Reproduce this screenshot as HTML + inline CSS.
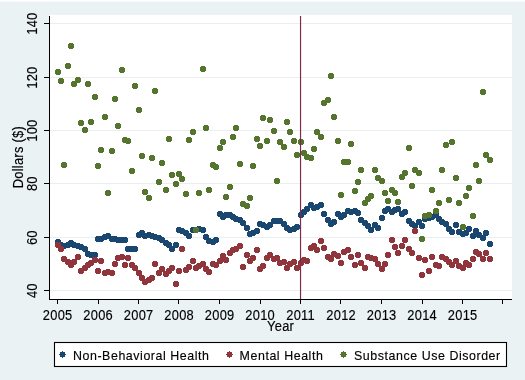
<!DOCTYPE html>
<html><head><meta charset="utf-8"><style>
html,body{margin:0;padding:0;width:525px;height:380px;overflow:hidden;background:#eaf2f3;}
svg{display:block;font-family:"Liberation Sans", sans-serif;will-change:transform;}
</style></head><body><svg width="525" height="380" viewBox="0 0 525 380"><rect x="0" y="0" width="525" height="380" fill="#eaf2f3"/><rect x="0" y="0" width="525" height="1" fill="#ffffff"/><rect x="0" y="1" width="525" height="1" fill="#f4f8f9"/><rect x="49" y="15" width="463" height="285" fill="#ffffff"/><rect x="50" y="23" width="462" height="1" fill="#eaeeee"/><rect x="44" y="23" width="5" height="1" fill="#000"/><rect x="50" y="77" width="462" height="1" fill="#eaeeee"/><rect x="44" y="77" width="5" height="1" fill="#000"/><rect x="50" y="130" width="462" height="1" fill="#eaeeee"/><rect x="44" y="130" width="5" height="1" fill="#000"/><rect x="50" y="183" width="462" height="1" fill="#eaeeee"/><rect x="44" y="183" width="5" height="1" fill="#000"/><rect x="50" y="237" width="462" height="1" fill="#eaeeee"/><rect x="44" y="237" width="5" height="1" fill="#000"/><rect x="50" y="290" width="462" height="1" fill="#eaeeee"/><rect x="44" y="290" width="5" height="1" fill="#000"/><rect x="49" y="16" width="1" height="284" fill="#000"/><rect x="49" y="299" width="463" height="1" fill="#000"/><rect x="57" y="300" width="1" height="4" fill="#000"/><rect x="98" y="300" width="1" height="4" fill="#000"/><rect x="138" y="300" width="1" height="4" fill="#000"/><rect x="178" y="300" width="1" height="4" fill="#000"/><rect x="219" y="300" width="1" height="4" fill="#000"/><rect x="260" y="300" width="1" height="4" fill="#000"/><rect x="300" y="300" width="1" height="4" fill="#000"/><rect x="340" y="300" width="1" height="4" fill="#000"/><rect x="381" y="300" width="1" height="4" fill="#000"/><rect x="422" y="300" width="1" height="4" fill="#000"/><rect x="462" y="300" width="1" height="4" fill="#000"/><rect x="502" y="300" width="1" height="4" fill="#000"/><path fill="#1a476f" shape-rendering="crispEdges" d="M56 239h4v1h1v4h-1v1h-4v-1h-1v-4h1zM59 242h4v1h1v4h-1v1h-4v-1h-1v-4h1zM62 243h4v1h1v4h-1v1h-4v-1h-1v-4h1zM66 242h4v1h1v4h-1v1h-4v-1h-1v-4h1zM69 240h4v1h1v4h-1v1h-4v-1h-1v-4h1zM72 242h4v1h1v4h-1v1h-4v-1h-1v-4h1zM76 243h4v1h1v4h-1v1h-4v-1h-1v-4h1zM79 244h4v1h1v4h-1v1h-4v-1h-1v-4h1zM83 246h4v1h1v4h-1v1h-4v-1h-1v-4h1zM86 251h4v1h1v4h-1v1h-4v-1h-1v-4h1zM89 252h4v1h1v4h-1v1h-4v-1h-1v-4h1zM93 252h4v1h1v4h-1v1h-4v-1h-1v-4h1zM96 236h4v1h1v4h-1v1h-4v-1h-1v-4h1zM99 236h4v1h1v4h-1v1h-4v-1h-1v-4h1zM103 234h4v1h1v4h-1v1h-4v-1h-1v-4h1zM106 233h4v1h1v4h-1v1h-4v-1h-1v-4h1zM110 236h4v1h1v4h-1v1h-4v-1h-1v-4h1zM113 236h4v1h1v4h-1v1h-4v-1h-1v-4h1zM116 237h4v1h1v4h-1v1h-4v-1h-1v-4h1zM120 237h4v1h1v4h-1v1h-4v-1h-1v-4h1zM123 237h4v1h1v4h-1v1h-4v-1h-1v-4h1zM126 246h4v1h1v4h-1v1h-4v-1h-1v-4h1zM130 246h4v1h1v4h-1v1h-4v-1h-1v-4h1zM133 246h4v1h1v4h-1v1h-4v-1h-1v-4h1zM137 232h4v1h1v4h-1v1h-4v-1h-1v-4h1zM140 230h4v1h1v4h-1v1h-4v-1h-1v-4h1zM143 233h4v1h1v4h-1v1h-4v-1h-1v-4h1zM147 232h4v1h1v4h-1v1h-4v-1h-1v-4h1zM150 233h4v1h1v4h-1v1h-4v-1h-1v-4h1zM153 234h4v1h1v4h-1v1h-4v-1h-1v-4h1zM157 235h4v1h1v4h-1v1h-4v-1h-1v-4h1zM160 237h4v1h1v4h-1v1h-4v-1h-1v-4h1zM164 240h4v1h1v4h-1v1h-4v-1h-1v-4h1zM167 242h4v1h1v4h-1v1h-4v-1h-1v-4h1zM170 246h4v1h1v4h-1v1h-4v-1h-1v-4h1zM174 242h4v1h1v4h-1v1h-4v-1h-1v-4h1zM177 227h4v1h1v4h-1v1h-4v-1h-1v-4h1zM180 228h4v1h1v4h-1v1h-4v-1h-1v-4h1zM184 230h4v1h1v4h-1v1h-4v-1h-1v-4h1zM187 233h4v1h1v4h-1v1h-4v-1h-1v-4h1zM191 227h4v1h1v4h-1v1h-4v-1h-1v-4h1zM194 227h4v1h1v4h-1v1h-4v-1h-1v-4h1zM197 226h4v1h1v4h-1v1h-4v-1h-1v-4h1zM201 227h4v1h1v4h-1v1h-4v-1h-1v-4h1zM204 234h4v1h1v4h-1v1h-4v-1h-1v-4h1zM207 238h4v1h1v4h-1v1h-4v-1h-1v-4h1zM211 239h4v1h1v4h-1v1h-4v-1h-1v-4h1zM214 237h4v1h1v4h-1v1h-4v-1h-1v-4h1zM218 211h4v1h1v4h-1v1h-4v-1h-1v-4h1zM221 214h4v1h1v4h-1v1h-4v-1h-1v-4h1zM224 212h4v1h1v4h-1v1h-4v-1h-1v-4h1zM228 212h4v1h1v4h-1v1h-4v-1h-1v-4h1zM231 214h4v1h1v4h-1v1h-4v-1h-1v-4h1zM234 216h4v1h1v4h-1v1h-4v-1h-1v-4h1zM238 217h4v1h1v4h-1v1h-4v-1h-1v-4h1zM241 220h4v1h1v4h-1v1h-4v-1h-1v-4h1zM245 225h4v1h1v4h-1v1h-4v-1h-1v-4h1zM248 231h4v1h1v4h-1v1h-4v-1h-1v-4h1zM251 230h4v1h1v4h-1v1h-4v-1h-1v-4h1zM255 228h4v1h1v4h-1v1h-4v-1h-1v-4h1zM258 221h4v1h1v4h-1v1h-4v-1h-1v-4h1zM261 222h4v1h1v4h-1v1h-4v-1h-1v-4h1zM265 224h4v1h1v4h-1v1h-4v-1h-1v-4h1zM268 222h4v1h1v4h-1v1h-4v-1h-1v-4h1zM272 218h4v1h1v4h-1v1h-4v-1h-1v-4h1zM275 218h4v1h1v4h-1v1h-4v-1h-1v-4h1zM278 218h4v1h1v4h-1v1h-4v-1h-1v-4h1zM282 221h4v1h1v4h-1v1h-4v-1h-1v-4h1zM285 225h4v1h1v4h-1v1h-4v-1h-1v-4h1zM288 227h4v1h1v4h-1v1h-4v-1h-1v-4h1zM292 226h4v1h1v4h-1v1h-4v-1h-1v-4h1zM295 224h4v1h1v4h-1v1h-4v-1h-1v-4h1zM299 212h4v1h1v4h-1v1h-4v-1h-1v-4h1zM302 209h4v1h1v4h-1v1h-4v-1h-1v-4h1zM305 206h4v1h1v4h-1v1h-4v-1h-1v-4h1zM309 202h4v1h1v4h-1v1h-4v-1h-1v-4h1zM312 205h4v1h1v4h-1v1h-4v-1h-1v-4h1zM315 204h4v1h1v4h-1v1h-4v-1h-1v-4h1zM319 202h4v1h1v4h-1v1h-4v-1h-1v-4h1zM322 211h4v1h1v4h-1v1h-4v-1h-1v-4h1zM326 217h4v1h1v4h-1v1h-4v-1h-1v-4h1zM329 221h4v1h1v4h-1v1h-4v-1h-1v-4h1zM332 219h4v1h1v4h-1v1h-4v-1h-1v-4h1zM336 211h4v1h1v4h-1v1h-4v-1h-1v-4h1zM339 214h4v1h1v4h-1v1h-4v-1h-1v-4h1zM342 212h4v1h1v4h-1v1h-4v-1h-1v-4h1zM346 208h4v1h1v4h-1v1h-4v-1h-1v-4h1zM349 209h4v1h1v4h-1v1h-4v-1h-1v-4h1zM353 208h4v1h1v4h-1v1h-4v-1h-1v-4h1zM356 210h4v1h1v4h-1v1h-4v-1h-1v-4h1zM359 217h4v1h1v4h-1v1h-4v-1h-1v-4h1zM363 220h4v1h1v4h-1v1h-4v-1h-1v-4h1zM366 223h4v1h1v4h-1v1h-4v-1h-1v-4h1zM369 227h4v1h1v4h-1v1h-4v-1h-1v-4h1zM373 222h4v1h1v4h-1v1h-4v-1h-1v-4h1zM376 225h4v1h1v4h-1v1h-4v-1h-1v-4h1zM380 215h4v1h1v4h-1v1h-4v-1h-1v-4h1zM383 208h4v1h1v4h-1v1h-4v-1h-1v-4h1zM386 206h4v1h1v4h-1v1h-4v-1h-1v-4h1zM390 209h4v1h1v4h-1v1h-4v-1h-1v-4h1zM393 207h4v1h1v4h-1v1h-4v-1h-1v-4h1zM396 206h4v1h1v4h-1v1h-4v-1h-1v-4h1zM400 211h4v1h1v4h-1v1h-4v-1h-1v-4h1zM403 209h4v1h1v4h-1v1h-4v-1h-1v-4h1zM407 218h4v1h1v4h-1v1h-4v-1h-1v-4h1zM410 221h4v1h1v4h-1v1h-4v-1h-1v-4h1zM413 223h4v1h1v4h-1v1h-4v-1h-1v-4h1zM417 219h4v1h1v4h-1v1h-4v-1h-1v-4h1zM420 223h4v1h1v4h-1v1h-4v-1h-1v-4h1zM423 216h4v1h1v4h-1v1h-4v-1h-1v-4h1zM427 215h4v1h1v4h-1v1h-4v-1h-1v-4h1zM430 214h4v1h1v4h-1v1h-4v-1h-1v-4h1zM434 212h4v1h1v4h-1v1h-4v-1h-1v-4h1zM437 216h4v1h1v4h-1v1h-4v-1h-1v-4h1zM440 219h4v1h1v4h-1v1h-4v-1h-1v-4h1zM444 221h4v1h1v4h-1v1h-4v-1h-1v-4h1zM447 226h4v1h1v4h-1v1h-4v-1h-1v-4h1zM450 229h4v1h1v4h-1v1h-4v-1h-1v-4h1zM454 222h4v1h1v4h-1v1h-4v-1h-1v-4h1zM457 229h4v1h1v4h-1v1h-4v-1h-1v-4h1zM461 231h4v1h1v4h-1v1h-4v-1h-1v-4h1zM464 230h4v1h1v4h-1v1h-4v-1h-1v-4h1zM467 226h4v1h1v4h-1v1h-4v-1h-1v-4h1zM471 233h4v1h1v4h-1v1h-4v-1h-1v-4h1zM474 228h4v1h1v4h-1v1h-4v-1h-1v-4h1zM477 232h4v1h1v4h-1v1h-4v-1h-1v-4h1zM481 235h4v1h1v4h-1v1h-4v-1h-1v-4h1zM484 230h4v1h1v4h-1v1h-4v-1h-1v-4h1zM488 241h4v1h1v4h-1v1h-4v-1h-1v-4h1z"/><path fill="#90353b" shape-rendering="crispEdges" d="M56 242h4v1h1v4h-1v1h-4v-1h-1v-4h1zM59 246h4v1h1v4h-1v1h-4v-1h-1v-4h1zM62 256h4v1h1v4h-1v1h-4v-1h-1v-4h1zM66 259h4v1h1v4h-1v1h-4v-1h-1v-4h1zM69 262h4v1h1v4h-1v1h-4v-1h-1v-4h1zM72 259h4v1h1v4h-1v1h-4v-1h-1v-4h1zM76 254h4v1h1v4h-1v1h-4v-1h-1v-4h1zM79 268h4v1h1v4h-1v1h-4v-1h-1v-4h1zM83 265h4v1h1v4h-1v1h-4v-1h-1v-4h1zM86 262h4v1h1v4h-1v1h-4v-1h-1v-4h1zM89 260h4v1h1v4h-1v1h-4v-1h-1v-4h1zM93 257h4v1h1v4h-1v1h-4v-1h-1v-4h1zM96 268h4v1h1v4h-1v1h-4v-1h-1v-4h1zM99 258h4v1h1v4h-1v1h-4v-1h-1v-4h1zM103 270h4v1h1v4h-1v1h-4v-1h-1v-4h1zM106 269h4v1h1v4h-1v1h-4v-1h-1v-4h1zM110 270h4v1h1v4h-1v1h-4v-1h-1v-4h1zM113 261h4v1h1v4h-1v1h-4v-1h-1v-4h1zM116 255h4v1h1v4h-1v1h-4v-1h-1v-4h1zM120 254h4v1h1v4h-1v1h-4v-1h-1v-4h1zM123 262h4v1h1v4h-1v1h-4v-1h-1v-4h1zM126 255h4v1h1v4h-1v1h-4v-1h-1v-4h1zM130 262h4v1h1v4h-1v1h-4v-1h-1v-4h1zM133 265h4v1h1v4h-1v1h-4v-1h-1v-4h1zM137 270h4v1h1v4h-1v1h-4v-1h-1v-4h1zM140 275h4v1h1v4h-1v1h-4v-1h-1v-4h1zM143 279h4v1h1v4h-1v1h-4v-1h-1v-4h1zM147 277h4v1h1v4h-1v1h-4v-1h-1v-4h1zM150 275h4v1h1v4h-1v1h-4v-1h-1v-4h1zM153 261h4v1h1v4h-1v1h-4v-1h-1v-4h1zM157 270h4v1h1v4h-1v1h-4v-1h-1v-4h1zM160 266h4v1h1v4h-1v1h-4v-1h-1v-4h1zM164 271h4v1h1v4h-1v1h-4v-1h-1v-4h1zM167 268h4v1h1v4h-1v1h-4v-1h-1v-4h1zM170 265h4v1h1v4h-1v1h-4v-1h-1v-4h1zM174 281h4v1h1v4h-1v1h-4v-1h-1v-4h1zM177 268h4v1h1v4h-1v1h-4v-1h-1v-4h1zM180 246h4v1h1v4h-1v1h-4v-1h-1v-4h1zM184 267h4v1h1v4h-1v1h-4v-1h-1v-4h1zM187 264h4v1h1v4h-1v1h-4v-1h-1v-4h1zM191 258h4v1h1v4h-1v1h-4v-1h-1v-4h1zM194 265h4v1h1v4h-1v1h-4v-1h-1v-4h1zM197 263h4v1h1v4h-1v1h-4v-1h-1v-4h1zM201 261h4v1h1v4h-1v1h-4v-1h-1v-4h1zM204 266h4v1h1v4h-1v1h-4v-1h-1v-4h1zM207 269h4v1h1v4h-1v1h-4v-1h-1v-4h1zM211 261h4v1h1v4h-1v1h-4v-1h-1v-4h1zM214 262h4v1h1v4h-1v1h-4v-1h-1v-4h1zM218 258h4v1h1v4h-1v1h-4v-1h-1v-4h1zM221 253h4v1h1v4h-1v1h-4v-1h-1v-4h1zM224 257h4v1h1v4h-1v1h-4v-1h-1v-4h1zM228 250h4v1h1v4h-1v1h-4v-1h-1v-4h1zM231 247h4v1h1v4h-1v1h-4v-1h-1v-4h1zM234 246h4v1h1v4h-1v1h-4v-1h-1v-4h1zM238 243h4v1h1v4h-1v1h-4v-1h-1v-4h1zM241 264h4v1h1v4h-1v1h-4v-1h-1v-4h1zM245 252h4v1h1v4h-1v1h-4v-1h-1v-4h1zM248 258h4v1h1v4h-1v1h-4v-1h-1v-4h1zM251 255h4v1h1v4h-1v1h-4v-1h-1v-4h1zM255 247h4v1h1v4h-1v1h-4v-1h-1v-4h1zM258 266h4v1h1v4h-1v1h-4v-1h-1v-4h1zM261 263h4v1h1v4h-1v1h-4v-1h-1v-4h1zM265 255h4v1h1v4h-1v1h-4v-1h-1v-4h1zM268 252h4v1h1v4h-1v1h-4v-1h-1v-4h1zM272 256h4v1h1v4h-1v1h-4v-1h-1v-4h1zM275 255h4v1h1v4h-1v1h-4v-1h-1v-4h1zM278 260h4v1h1v4h-1v1h-4v-1h-1v-4h1zM282 259h4v1h1v4h-1v1h-4v-1h-1v-4h1zM285 265h4v1h1v4h-1v1h-4v-1h-1v-4h1zM288 261h4v1h1v4h-1v1h-4v-1h-1v-4h1zM292 259h4v1h1v4h-1v1h-4v-1h-1v-4h1zM295 265h4v1h1v4h-1v1h-4v-1h-1v-4h1zM299 260h4v1h1v4h-1v1h-4v-1h-1v-4h1zM302 257h4v1h1v4h-1v1h-4v-1h-1v-4h1zM305 258h4v1h1v4h-1v1h-4v-1h-1v-4h1zM309 245h4v1h1v4h-1v1h-4v-1h-1v-4h1zM312 243h4v1h1v4h-1v1h-4v-1h-1v-4h1zM315 247h4v1h1v4h-1v1h-4v-1h-1v-4h1zM319 238h4v1h1v4h-1v1h-4v-1h-1v-4h1zM322 245h4v1h1v4h-1v1h-4v-1h-1v-4h1zM326 254h4v1h1v4h-1v1h-4v-1h-1v-4h1zM329 256h4v1h1v4h-1v1h-4v-1h-1v-4h1zM332 251h4v1h1v4h-1v1h-4v-1h-1v-4h1zM336 253h4v1h1v4h-1v1h-4v-1h-1v-4h1zM339 260h4v1h1v4h-1v1h-4v-1h-1v-4h1zM342 249h4v1h1v4h-1v1h-4v-1h-1v-4h1zM346 247h4v1h1v4h-1v1h-4v-1h-1v-4h1zM349 254h4v1h1v4h-1v1h-4v-1h-1v-4h1zM353 262h4v1h1v4h-1v1h-4v-1h-1v-4h1zM356 252h4v1h1v4h-1v1h-4v-1h-1v-4h1zM359 260h4v1h1v4h-1v1h-4v-1h-1v-4h1zM363 265h4v1h1v4h-1v1h-4v-1h-1v-4h1zM366 254h4v1h1v4h-1v1h-4v-1h-1v-4h1zM369 255h4v1h1v4h-1v1h-4v-1h-1v-4h1zM373 256h4v1h1v4h-1v1h-4v-1h-1v-4h1zM376 261h4v1h1v4h-1v1h-4v-1h-1v-4h1zM380 266h4v1h1v4h-1v1h-4v-1h-1v-4h1zM383 261h4v1h1v4h-1v1h-4v-1h-1v-4h1zM386 252h4v1h1v4h-1v1h-4v-1h-1v-4h1zM390 237h4v1h1v4h-1v1h-4v-1h-1v-4h1zM393 244h4v1h1v4h-1v1h-4v-1h-1v-4h1zM396 250h4v1h1v4h-1v1h-4v-1h-1v-4h1zM400 243h4v1h1v4h-1v1h-4v-1h-1v-4h1zM403 237h4v1h1v4h-1v1h-4v-1h-1v-4h1zM407 246h4v1h1v4h-1v1h-4v-1h-1v-4h1zM410 250h4v1h1v4h-1v1h-4v-1h-1v-4h1zM413 228h4v1h1v4h-1v1h-4v-1h-1v-4h1zM417 255h4v1h1v4h-1v1h-4v-1h-1v-4h1zM420 272h4v1h1v4h-1v1h-4v-1h-1v-4h1zM423 257h4v1h1v4h-1v1h-4v-1h-1v-4h1zM427 268h4v1h1v4h-1v1h-4v-1h-1v-4h1zM430 254h4v1h1v4h-1v1h-4v-1h-1v-4h1zM434 262h4v1h1v4h-1v1h-4v-1h-1v-4h1zM437 263h4v1h1v4h-1v1h-4v-1h-1v-4h1zM440 254h4v1h1v4h-1v1h-4v-1h-1v-4h1zM444 256h4v1h1v4h-1v1h-4v-1h-1v-4h1zM447 259h4v1h1v4h-1v1h-4v-1h-1v-4h1zM450 262h4v1h1v4h-1v1h-4v-1h-1v-4h1zM454 258h4v1h1v4h-1v1h-4v-1h-1v-4h1zM457 263h4v1h1v4h-1v1h-4v-1h-1v-4h1zM461 265h4v1h1v4h-1v1h-4v-1h-1v-4h1zM464 260h4v1h1v4h-1v1h-4v-1h-1v-4h1zM467 262h4v1h1v4h-1v1h-4v-1h-1v-4h1zM471 256h4v1h1v4h-1v1h-4v-1h-1v-4h1zM474 249h4v1h1v4h-1v1h-4v-1h-1v-4h1zM477 251h4v1h1v4h-1v1h-4v-1h-1v-4h1zM481 256h4v1h1v4h-1v1h-4v-1h-1v-4h1zM484 250h4v1h1v4h-1v1h-4v-1h-1v-4h1zM488 256h4v1h1v4h-1v1h-4v-1h-1v-4h1z"/><path fill="#55752f" shape-rendering="crispEdges" d="M56 69h4v1h1v4h-1v1h-4v-1h-1v-4h1zM59 78h4v1h1v4h-1v1h-4v-1h-1v-4h1zM62 162h4v1h1v4h-1v1h-4v-1h-1v-4h1zM66 63h4v1h1v4h-1v1h-4v-1h-1v-4h1zM69 43h4v1h1v4h-1v1h-4v-1h-1v-4h1zM72 81h4v1h1v4h-1v1h-4v-1h-1v-4h1zM76 77h4v1h1v4h-1v1h-4v-1h-1v-4h1zM79 120h4v1h1v4h-1v1h-4v-1h-1v-4h1zM83 127h4v1h1v4h-1v1h-4v-1h-1v-4h1zM86 81h4v1h1v4h-1v1h-4v-1h-1v-4h1zM89 119h4v1h1v4h-1v1h-4v-1h-1v-4h1zM93 94h4v1h1v4h-1v1h-4v-1h-1v-4h1zM96 163h4v1h1v4h-1v1h-4v-1h-1v-4h1zM99 147h4v1h1v4h-1v1h-4v-1h-1v-4h1zM103 114h4v1h1v4h-1v1h-4v-1h-1v-4h1zM106 190h4v1h1v4h-1v1h-4v-1h-1v-4h1zM110 148h4v1h1v4h-1v1h-4v-1h-1v-4h1zM113 96h4v1h1v4h-1v1h-4v-1h-1v-4h1zM116 123h4v1h1v4h-1v1h-4v-1h-1v-4h1zM120 67h4v1h1v4h-1v1h-4v-1h-1v-4h1zM123 137h4v1h1v4h-1v1h-4v-1h-1v-4h1zM126 138h4v1h1v4h-1v1h-4v-1h-1v-4h1zM130 168h4v1h1v4h-1v1h-4v-1h-1v-4h1zM133 83h4v1h1v4h-1v1h-4v-1h-1v-4h1zM137 107h4v1h1v4h-1v1h-4v-1h-1v-4h1zM140 153h4v1h1v4h-1v1h-4v-1h-1v-4h1zM143 189h4v1h1v4h-1v1h-4v-1h-1v-4h1zM147 195h4v1h1v4h-1v1h-4v-1h-1v-4h1zM150 155h4v1h1v4h-1v1h-4v-1h-1v-4h1zM153 88h4v1h1v4h-1v1h-4v-1h-1v-4h1zM157 179h4v1h1v4h-1v1h-4v-1h-1v-4h1zM160 160h4v1h1v4h-1v1h-4v-1h-1v-4h1zM164 187h4v1h1v4h-1v1h-4v-1h-1v-4h1zM167 136h4v1h1v4h-1v1h-4v-1h-1v-4h1zM170 172h4v1h1v4h-1v1h-4v-1h-1v-4h1zM174 181h4v1h1v4h-1v1h-4v-1h-1v-4h1zM177 171h4v1h1v4h-1v1h-4v-1h-1v-4h1zM180 176h4v1h1v4h-1v1h-4v-1h-1v-4h1zM184 191h4v1h1v4h-1v1h-4v-1h-1v-4h1zM187 137h4v1h1v4h-1v1h-4v-1h-1v-4h1zM191 129h4v1h1v4h-1v1h-4v-1h-1v-4h1zM194 227h4v1h1v4h-1v1h-4v-1h-1v-4h1zM197 190h4v1h1v4h-1v1h-4v-1h-1v-4h1zM201 66h4v1h1v4h-1v1h-4v-1h-1v-4h1zM204 125h4v1h1v4h-1v1h-4v-1h-1v-4h1zM207 187h4v1h1v4h-1v1h-4v-1h-1v-4h1zM211 162h4v1h1v4h-1v1h-4v-1h-1v-4h1zM214 164h4v1h1v4h-1v1h-4v-1h-1v-4h1zM218 145h4v1h1v4h-1v1h-4v-1h-1v-4h1zM221 139h4v1h1v4h-1v1h-4v-1h-1v-4h1zM224 194h4v1h1v4h-1v1h-4v-1h-1v-4h1zM228 184h4v1h1v4h-1v1h-4v-1h-1v-4h1zM231 134h4v1h1v4h-1v1h-4v-1h-1v-4h1zM234 125h4v1h1v4h-1v1h-4v-1h-1v-4h1zM238 161h4v1h1v4h-1v1h-4v-1h-1v-4h1zM241 201h4v1h1v4h-1v1h-4v-1h-1v-4h1zM245 203h4v1h1v4h-1v1h-4v-1h-1v-4h1zM248 195h4v1h1v4h-1v1h-4v-1h-1v-4h1zM251 163h4v1h1v4h-1v1h-4v-1h-1v-4h1zM255 136h4v1h1v4h-1v1h-4v-1h-1v-4h1zM258 143h4v1h1v4h-1v1h-4v-1h-1v-4h1zM261 115h4v1h1v4h-1v1h-4v-1h-1v-4h1zM265 138h4v1h1v4h-1v1h-4v-1h-1v-4h1zM268 117h4v1h1v4h-1v1h-4v-1h-1v-4h1zM272 128h4v1h1v4h-1v1h-4v-1h-1v-4h1zM275 178h4v1h1v4h-1v1h-4v-1h-1v-4h1zM278 139h4v1h1v4h-1v1h-4v-1h-1v-4h1zM282 144h4v1h1v4h-1v1h-4v-1h-1v-4h1zM285 119h4v1h1v4h-1v1h-4v-1h-1v-4h1zM288 129h4v1h1v4h-1v1h-4v-1h-1v-4h1zM292 138h4v1h1v4h-1v1h-4v-1h-1v-4h1zM295 152h4v1h1v4h-1v1h-4v-1h-1v-4h1zM299 139h4v1h1v4h-1v1h-4v-1h-1v-4h1zM302 150h4v1h1v4h-1v1h-4v-1h-1v-4h1zM305 154h4v1h1v4h-1v1h-4v-1h-1v-4h1zM309 155h4v1h1v4h-1v1h-4v-1h-1v-4h1zM312 146h4v1h1v4h-1v1h-4v-1h-1v-4h1zM315 129h4v1h1v4h-1v1h-4v-1h-1v-4h1zM319 134h4v1h1v4h-1v1h-4v-1h-1v-4h1zM322 100h4v1h1v4h-1v1h-4v-1h-1v-4h1zM326 97h4v1h1v4h-1v1h-4v-1h-1v-4h1zM329 73h4v1h1v4h-1v1h-4v-1h-1v-4h1zM332 114h4v1h1v4h-1v1h-4v-1h-1v-4h1zM336 138h4v1h1v4h-1v1h-4v-1h-1v-4h1zM339 192h4v1h1v4h-1v1h-4v-1h-1v-4h1zM342 159h4v1h1v4h-1v1h-4v-1h-1v-4h1zM346 159h4v1h1v4h-1v1h-4v-1h-1v-4h1zM349 141h4v1h1v4h-1v1h-4v-1h-1v-4h1zM353 188h4v1h1v4h-1v1h-4v-1h-1v-4h1zM356 179h4v1h1v4h-1v1h-4v-1h-1v-4h1zM359 167h4v1h1v4h-1v1h-4v-1h-1v-4h1zM363 200h4v1h1v4h-1v1h-4v-1h-1v-4h1zM366 196h4v1h1v4h-1v1h-4v-1h-1v-4h1zM369 193h4v1h1v4h-1v1h-4v-1h-1v-4h1zM373 167h4v1h1v4h-1v1h-4v-1h-1v-4h1zM376 175h4v1h1v4h-1v1h-4v-1h-1v-4h1zM380 178h4v1h1v4h-1v1h-4v-1h-1v-4h1zM383 190h4v1h1v4h-1v1h-4v-1h-1v-4h1zM386 198h4v1h1v4h-1v1h-4v-1h-1v-4h1zM390 187h4v1h1v4h-1v1h-4v-1h-1v-4h1zM393 190h4v1h1v4h-1v1h-4v-1h-1v-4h1zM396 199h4v1h1v4h-1v1h-4v-1h-1v-4h1zM400 174h4v1h1v4h-1v1h-4v-1h-1v-4h1zM403 170h4v1h1v4h-1v1h-4v-1h-1v-4h1zM407 145h4v1h1v4h-1v1h-4v-1h-1v-4h1zM410 183h4v1h1v4h-1v1h-4v-1h-1v-4h1zM413 167h4v1h1v4h-1v1h-4v-1h-1v-4h1zM417 170h4v1h1v4h-1v1h-4v-1h-1v-4h1zM420 236h4v1h1v4h-1v1h-4v-1h-1v-4h1zM423 213h4v1h1v4h-1v1h-4v-1h-1v-4h1zM427 212h4v1h1v4h-1v1h-4v-1h-1v-4h1zM430 187h4v1h1v4h-1v1h-4v-1h-1v-4h1zM434 208h4v1h1v4h-1v1h-4v-1h-1v-4h1zM437 200h4v1h1v4h-1v1h-4v-1h-1v-4h1zM440 167h4v1h1v4h-1v1h-4v-1h-1v-4h1zM444 142h4v1h1v4h-1v1h-4v-1h-1v-4h1zM447 197h4v1h1v4h-1v1h-4v-1h-1v-4h1zM450 139h4v1h1v4h-1v1h-4v-1h-1v-4h1zM454 175h4v1h1v4h-1v1h-4v-1h-1v-4h1zM457 200h4v1h1v4h-1v1h-4v-1h-1v-4h1zM461 224h4v1h1v4h-1v1h-4v-1h-1v-4h1zM464 193h4v1h1v4h-1v1h-4v-1h-1v-4h1zM467 185h4v1h1v4h-1v1h-4v-1h-1v-4h1zM471 213h4v1h1v4h-1v1h-4v-1h-1v-4h1zM474 162h4v1h1v4h-1v1h-4v-1h-1v-4h1zM477 178h4v1h1v4h-1v1h-4v-1h-1v-4h1zM481 89h4v1h1v4h-1v1h-4v-1h-1v-4h1zM484 152h4v1h1v4h-1v1h-4v-1h-1v-4h1zM488 157h4v1h1v4h-1v1h-4v-1h-1v-4h1z"/><rect x="300" y="16" width="1" height="283" fill="#7b2b4e" shape-rendering="crispEdges"/><rect x="301" y="16" width="1" height="283" fill="#7b2b4e" opacity="0.12"/><rect x="299" y="16" width="1" height="283" fill="#7b2b4e" opacity="0.06"/><g font-family="Liberation Sans, sans-serif" font-size="14" letter-spacing="0.3" fill="#000" stroke="#000" stroke-width="0.15"><g transform="translate(36.8,23.638) rotate(-90) scale(0.92,1)"><text x="0" y="0" text-anchor="middle">140</text></g><g transform="translate(36.8,77.638) rotate(-90) scale(0.92,1)"><text x="0" y="0" text-anchor="middle">120</text></g><g transform="translate(36.8,130.638) rotate(-90) scale(0.92,1)"><text x="0" y="0" text-anchor="middle">100</text></g><g transform="translate(36.8,183.638) rotate(-90) scale(0.92,1)"><text x="0" y="0" text-anchor="middle">80</text></g><g transform="translate(36.8,237.638) rotate(-90) scale(0.92,1)"><text x="0" y="0" text-anchor="middle">60</text></g><g transform="translate(36.8,290.638) rotate(-90) scale(0.92,1)"><text x="0" y="0" text-anchor="middle">40</text></g><g transform="translate(23,157.138) rotate(-90) scale(0.92,1)"><text x="0" y="0" text-anchor="middle">Dollars ($)</text></g><g transform="translate(57.638,320) scale(0.92,1)"><text x="0" y="0" text-anchor="middle">2005</text></g><g transform="translate(98.138,320) scale(0.92,1)"><text x="0" y="0" text-anchor="middle">2006</text></g><g transform="translate(138.638,320) scale(0.92,1)"><text x="0" y="0" text-anchor="middle">2007</text></g><g transform="translate(179.138,320) scale(0.92,1)"><text x="0" y="0" text-anchor="middle">2008</text></g><g transform="translate(219.638,320) scale(0.92,1)"><text x="0" y="0" text-anchor="middle">2009</text></g><g transform="translate(260.138,320) scale(0.92,1)"><text x="0" y="0" text-anchor="middle">2010</text></g><g transform="translate(300.638,320) scale(0.92,1)"><text x="0" y="0" text-anchor="middle">2011</text></g><g transform="translate(341.138,320) scale(0.92,1)"><text x="0" y="0" text-anchor="middle">2012</text></g><g transform="translate(381.638,320) scale(0.92,1)"><text x="0" y="0" text-anchor="middle">2013</text></g><g transform="translate(422.138,320) scale(0.92,1)"><text x="0" y="0" text-anchor="middle">2014</text></g><g transform="translate(462.638,320) scale(0.92,1)"><text x="0" y="0" text-anchor="middle">2015</text></g><g transform="translate(280.638,330.8) scale(0.92,1)"><text x="0" y="0" text-anchor="middle">Year</text></g></g><rect x="54.5" y="342.5" width="452" height="24" fill="#fff" stroke="#000" stroke-width="1.1"/><path shape-rendering="crispEdges" fill="#1a476f" d="M60 352h5v5h-5zM62 351h1v1h-1zM62 357h1v1h-1zM59 354h1v1h-1zM65 354h1v1h-1z"/><path shape-rendering="crispEdges" fill="#90353b" d="M227 352h5v5h-5zM229 351h1v1h-1zM229 357h1v1h-1zM226 354h1v1h-1zM232 354h1v1h-1z"/><path shape-rendering="crispEdges" fill="#55752f" d="M341 352h5v5h-5zM343 351h1v1h-1zM343 357h1v1h-1zM340 354h1v1h-1zM346 354h1v1h-1z"/><g font-family="Liberation Sans, sans-serif" font-size="13.5" letter-spacing="0.6" fill="#000" stroke="#000" stroke-width="0.15"><g transform="translate(73,359.7) scale(0.92,1)"><text x="0" y="0" text-anchor="start">Non-Behavioral Health</text></g><g transform="translate(239.6,359.7) scale(0.92,1)"><text x="0" y="0" text-anchor="start">Mental Health</text></g><g transform="translate(354,359.7) scale(0.92,1)"><text x="0" y="0" text-anchor="start">Substance Use Disorder</text></g></g></svg></body></html>
